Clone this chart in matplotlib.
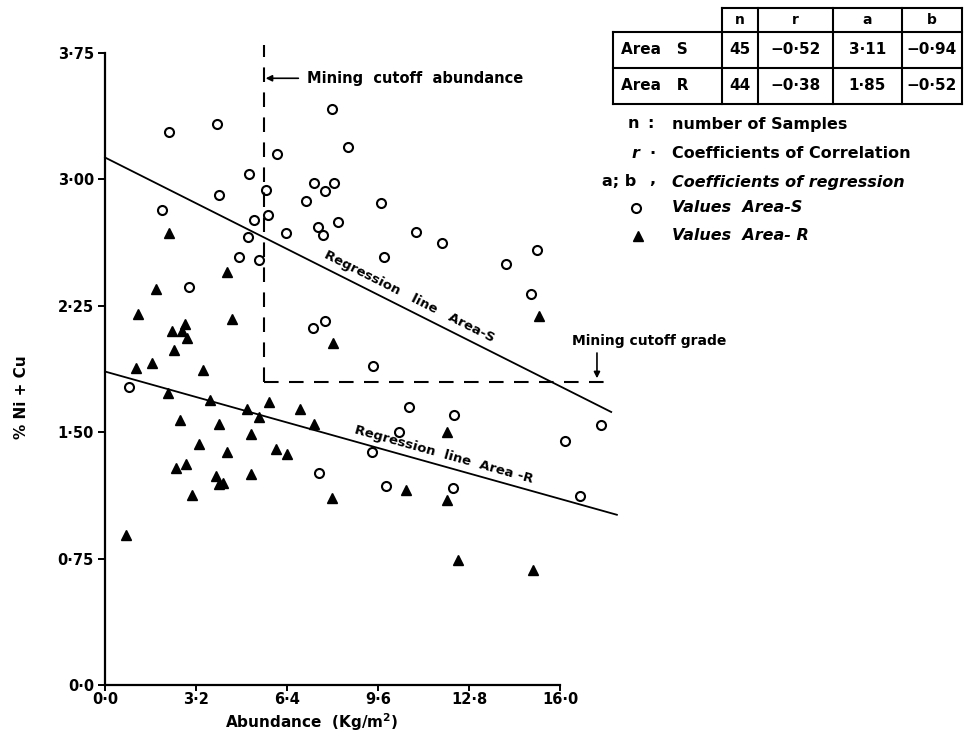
import math
import matplotlib
matplotlib.use("Agg")
import matplotlib.pyplot as plt
from matplotlib.lines import Line2D

### DATA ###
# Area S : open circles
s_x = [2.24, 3.94, 7.98, 6.04, 8.53, 5.08, 7.34, 8.04, 7.75, 5.65, 4.00, 9.69,
       7.08, 2.02, 5.24, 5.74, 8.20, 7.48, 7.68, 6.37, 5.04, 9.80, 4.70, 5.43,
       2.94, 7.31, 7.74, 10.93, 11.85, 15.19, 14.11, 14.98, 9.43, 10.70, 12.26,
       10.34, 17.43, 16.16, 12.23, 16.69, 0.86, 9.38, 7.52, 9.89]
s_y = [3.28, 3.33, 3.42, 3.15, 3.19, 3.03, 2.98, 2.98, 2.93, 2.94, 2.91, 2.86,
       2.87, 2.82, 2.76, 2.79, 2.75, 2.72, 2.67, 2.68, 2.66, 2.54, 2.54, 2.52,
       2.36, 2.12, 2.16, 2.69, 2.62, 2.58, 2.50, 2.32, 1.89, 1.65, 1.60,
       1.50, 1.54, 1.45, 1.17, 1.12, 1.77, 1.38, 1.26, 1.18]

# Area R : filled triangles
r_x = [2.26, 4.30, 1.80, 1.16, 4.45, 2.35, 2.81, 2.71, 2.89, 2.43, 8.02, 15.27,
       1.66, 1.08, 3.46, 2.21, 3.68, 4.99, 5.76, 6.87, 5.41, 7.34, 2.62, 4.00,
       5.15, 3.31, 4.29, 6.03, 6.40, 2.85, 2.49, 5.15, 3.90, 4.14, 4.02, 3.05,
       7.99, 10.59, 12.01, 12.03, 0.74, 12.40, 15.05]
r_y = [2.68, 2.45, 2.35, 2.20, 2.17, 2.10, 2.14, 2.10, 2.06, 1.99, 2.03, 2.19,
       1.91, 1.88, 1.87, 1.73, 1.69, 1.64, 1.68, 1.64, 1.59, 1.55, 1.57, 1.55,
       1.49, 1.43, 1.38, 1.40, 1.37, 1.31, 1.29, 1.25, 1.24, 1.20, 1.19, 1.13,
       1.11, 1.16, 1.50, 1.10, 0.89, 0.74, 0.68]

# regression lines (end points)
line_s_x = [0.0, 17.8]
line_s_y = [3.13, 1.62]
line_r_x = [0.0, 18.0]
line_r_y = [1.86, 1.01]

cutoff_abundance = 5.6
cutoff_grade = 1.80
dash_end = 17.9

x_ticks = [0, 3.2, 6.4, 9.6, 12.8, 16.0]
x_ticklabels = ['0·0', '3·2', '6·4', '9·6', '12·8', '16·0']
y_ticks = [0, 0.75, 1.5, 2.25, 3.0, 3.75]
y_ticklabels = ['0·0', '0·75', '1·50', '2·25', '3·00', '3·75']

table_cols = ['n', 'r', 'a', 'b']
table_rows = ['Area   S', 'Area   R']
table_vals = [['45', '−0·52', '3·11', '−0·94'],
              ['44', '−0·38', '1·85', '−0·52']]

W, H = 973, 746
plt.rcParams['font.family'] = ['DejaVu Sans']
plt.rcParams['font.weight'] = 'bold'

fig = plt.figure(figsize=(W / 100, H / 100), dpi=100, facecolor='w')

# overlay in pixel coordinates for the free text / table
ov = fig.add_axes([0, 0, 1, 1])
ov.set_xlim(0, W)
ov.set_ylim(H, 0)
ov.axis('off')

# main axes: x 0..16 at px 105..560, y 0..3.75 at px 685..53
ax = fig.add_axes([105 / W, 1 - 685 / H, (560 - 105) / W, (685 - 53) / H])
ax.set_xlim(0, 16)
ax.set_ylim(0, 3.75)
ax.patch.set_alpha(0)
for side in ['top', 'right']:
    ax.spines[side].set_visible(False)
for side in ['left', 'bottom']:
    ax.spines[side].set_linewidth(1.6)

ax.set_xticks(x_ticks)
ax.set_xticklabels(x_ticklabels)
ax.set_yticks(y_ticks)
ax.set_yticklabels(y_ticklabels)
ax.tick_params(axis='both', direction='out', length=5, width=1.4,
               labelsize=10.5, pad=3)
ax.tick_params(axis='x', length=4, pad=1)

# points
ax.plot(s_x, s_y, 'o', ms=6.5, mfc='white', mec='black', mew=1.5, clip_on=False)
ax.plot(r_x, r_y, '^', ms=7.5, color='black', clip_on=False)

# regression lines
ax.plot(line_s_x, line_s_y, color='black', lw=1.3, clip_on=False)
ax.plot(line_r_x, line_r_y, color='black', lw=1.3, clip_on=False)

# cutoff lines
ax.plot([cutoff_abundance, cutoff_abundance], [cutoff_grade, 3.8],
        color='black', lw=1.5, ls=(0, (7, 5)), clip_on=False)
ax.plot([cutoff_abundance, dash_end], [cutoff_grade, cutoff_grade],
        color='black', lw=1.5, ls=(0, (7, 5)), clip_on=False)


def line_angle(xs, ys):
    p = ax.transData.transform(list(zip(xs, ys)))
    return math.degrees(math.atan2(p[1][1] - p[0][1], p[1][0] - p[0][0]))


def on_line(xs, ys, x):
    return ys[0] + (ys[1] - ys[0]) * (x - xs[0]) / (xs[1] - xs[0])


ang_s = line_angle(line_s_x, line_s_y)
ang_r = line_angle(line_r_x, line_r_y)
xs_lab = 10.5
ax.annotate('Regression   line   Area-S', xy=(xs_lab, on_line(line_s_x, line_s_y, xs_lab)),
            xytext=(3.9, 8.0), textcoords='offset points', rotation=ang_s,
            rotation_mode='anchor', ha='center', va='center', fontsize=9.5)
xr_lab = 11.8
ax.annotate('Regression  line  Area -R', xy=(xr_lab, on_line(line_r_x, line_r_y, xr_lab)),
            xytext=(2.2, 7.7), textcoords='offset points', rotation=ang_r,
            rotation_mode='anchor', ha='center', va='center', fontsize=9.5)

# annotations
ax.annotate('', xy=(cutoff_abundance + 0.05, 3.6), xytext=(6.8, 3.6),
            annotation_clip=False,
            arrowprops=dict(arrowstyle='-|>', color='black', lw=1.2,
                            mutation_scale=9, shrinkA=0, shrinkB=0))
ax.text(7.1, 3.6, 'Mining  cutoff  abundance', fontsize=10.5, va='center', ha='left')
ax.annotate('', xy=(17.3, cutoff_grade + 0.02), xytext=(17.3, 1.97),
            annotation_clip=False,
            arrowprops=dict(arrowstyle='-|>', color='black', lw=1.2,
                            mutation_scale=9, shrinkA=0, shrinkB=0))
ax.text(16.42, 2.0, 'Mining cutoff grade', fontsize=10, va='bottom', ha='left',
        clip_on=False)

# axis labels
ov.text(22, 397, '% Ni + Cu', rotation=90, ha='center', va='center', fontsize=11)
ov.text(312, 722, 'Abundance  (Kg/m$^\\mathbf{2}$)', ha='center', va='center',
        fontsize=11)

# table
col_edges = [722, 758, 833, 902, 962]
row_edges = [8, 32, 68, 104]
lab_left = 613
lw_t = 1.5
ov.plot([col_edges[0], col_edges[-1]], [row_edges[0]] * 2, color='black', lw=lw_t)
for y in row_edges[1:]:
    ov.plot([lab_left, col_edges[-1]], [y, y], color='black', lw=lw_t)
for x in col_edges:
    ov.plot([x, x], [row_edges[0], row_edges[-1]], color='black', lw=lw_t)
ov.plot([lab_left, lab_left], [row_edges[1], row_edges[-1]], color='black', lw=lw_t)
for j, c in enumerate(table_cols):
    ov.text((col_edges[j] + col_edges[j + 1]) / 2, (row_edges[0] + row_edges[1]) / 2,
            c, ha='center', va='center', fontsize=10)
for i, rname in enumerate(table_rows):
    yc = (row_edges[i + 1] + row_edges[i + 2]) / 2
    ov.text(lab_left + 8, yc, rname, ha='left', va='center', fontsize=11)
    for j, v in enumerate(table_vals[i]):
        ov.text((col_edges[j] + col_edges[j + 1]) / 2, yc, v,
                ha='center', va='center', fontsize=11)

# key
key_fs = 11.5
tx = 672
ov.text(633, 124, 'n', ha='center', va='center', fontsize=key_fs)
ov.text(650, 124, ':', ha='center', va='center', fontsize=key_fs)
ov.text(tx, 124, 'number of Samples', ha='left', va='center', fontsize=key_fs)
ov.text(635, 154, 'r', ha='center', va='center', fontsize=key_fs, style='italic')
ov.text(652, 154, '·', ha='center', va='center', fontsize=key_fs)
ov.text(tx, 154, 'Coefficients of Correlation', ha='left', va='center', fontsize=key_fs)
ov.text(619, 182, 'a; b', ha='center', va='center', fontsize=key_fs)
ov.text(652, 180, ',', ha='center', va='center', fontsize=key_fs)
ov.text(tx, 182, 'Coefficients of regression', ha='left', va='center',
        fontsize=key_fs, style='italic')
ov.add_line(Line2D([636], [208], marker='o', ms=6.5, mfc='white', mec='black', mew=1.5))
ov.text(tx, 208, 'Values  Area-S', ha='left', va='center', fontsize=key_fs, style='italic')
ov.add_line(Line2D([638], [236], marker='^', ms=7.5, color='black'))
ov.text(tx, 236, 'Values  Area- R', ha='left', va='center', fontsize=key_fs, style='italic')

fig.savefig('out.png', dpi=100, facecolor='w')
